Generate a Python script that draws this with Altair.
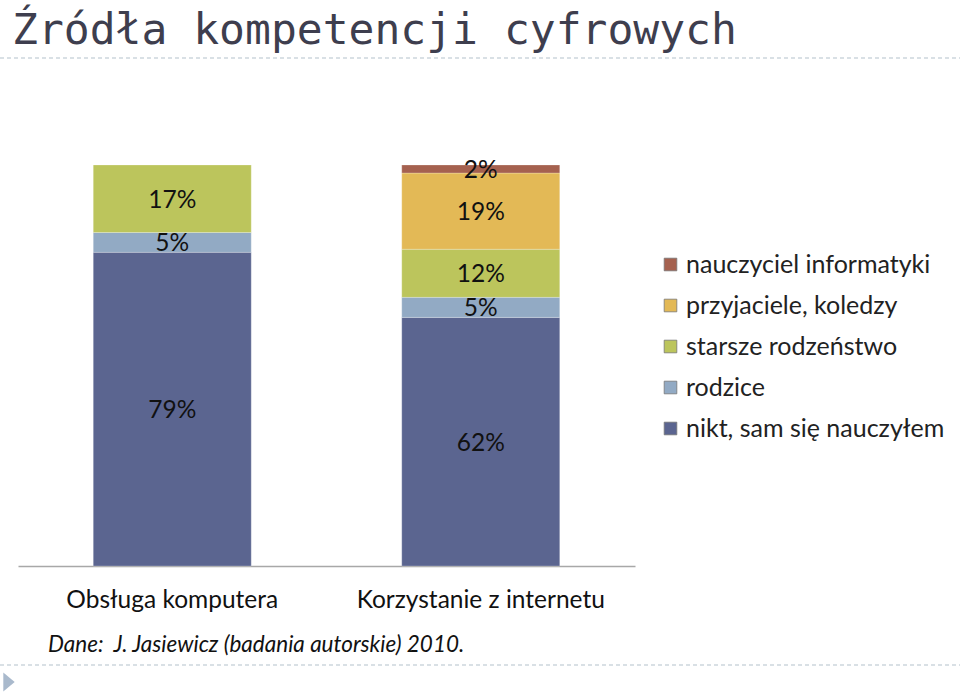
import altair as alt
import pandas as pd

categories = ["Obsługa komputera", "Korzystanie z internetu"]
series = ["nikt, sam się nauczyłem", "rodzice", "starsze rodzeństwo",
          "przyjaciele, koledzy", "nauczyciel informatyki"]
colors = ["#5b6590", "#92aac4", "#bcc55c", "#e3b956", "#a5614f"]
values_komputer = [79, 5, 17, 0, 0]
values_internet = [62, 5, 12, 19, 2]

rows = []
for cat, vals in zip(categories, [values_komputer, values_internet]):
    for i, (s, v) in enumerate(zip(series, vals)):
        if v > 0:
            rows.append({"kat": cat, "seria": s, "v": v, "ord": i})
df = pd.DataFrame(rows)

FONT = "Lato"
OX, OY = 18, 165  # plot origin in page pixels

legend_order = list(reversed(series))
legend_colors = list(reversed(colors))

color = alt.Color("seria:N",
                  scale=alt.Scale(domain=legend_order, range=legend_colors),
                  legend=alt.Legend(title=None, orient="none",
                                    legendX=658 - OX, legendY=252 - OY,
                                    symbolType="square", symbolSize=160,
                                    symbolStrokeWidth=0.8, symbolStrokeColor="#777777",
                                    labelFont=FONT, labelFontSize=25, labelColor="#222222",
                                    labelOffset=3, rowPadding=15, labelLimit=400))

x = alt.X("kat:N", sort=categories, title=None,
          scale=alt.Scale(paddingInner=0, paddingOuter=0),
          axis=alt.Axis(labelAngle=0, labelFont=FONT, labelFontSize=24.5,
                        labelColor="#111111", labelPadding=22, ticks=False,
                        labelLimit=400,
                        domainColor="#a8a8a8", domainWidth=1.5))

bars = alt.Chart(df).mark_bar(size=158, stroke="#ffffff", strokeWidth=0.4, strokeOpacity=0.6).encode(
    x=x,
    y=alt.Y("v:Q", stack="normalize", scale=alt.Scale(domain=[0, 1], nice=False), axis=None),
    color=color,
    order=alt.Order("ord:Q", sort="ascending"),
)

labels = alt.Chart(df).transform_joinaggregate(
    total="sum(v)", groupby=["kat"]
).transform_window(
    cum="sum(v)", sort=[alt.SortField("ord")], groupby=["kat"], frame=[None, 0]
).transform_calculate(
    mid="(datum.cum - datum.v/2)/datum.total",
    lab="datum.v + '%'"
).mark_text(font=FONT, fontSize=24.5, color="#111111", baseline="middle", dy=2).encode(
    x=alt.X("kat:N", sort=categories),
    y=alt.Y("mid:Q"),
    text="lab:N",
)

one = pd.DataFrame({"a": [0]})

title = alt.Chart(one).mark_text(
    text="Źródła kompetencji cyfrowych", font="DejaVu Sans Mono", fontSize=43,
    color="#3e3e4e", align="left", baseline="alphabetic"
).encode(x=alt.value(12 - OX), y=alt.value(44 - OY))

source = alt.Chart(one).mark_text(
    text="Dane:\u00a0 J. Jasiewicz (badania autorskie) 2010.", font=FONT, fontSize=22.5,
    fontStyle="italic", color="#111111", align="left", baseline="alphabetic"
).encode(x=alt.value(48 - OX), y=alt.value(652 - OY))

line_top = alt.Chart(one).mark_rule(color="#b4c2cc", strokeDash=[4, 3], strokeWidth=1.2).encode(
    x=alt.value(-OX), x2=alt.value(960 - OX), y=alt.value(58 - OY))
line_bot = alt.Chart(one).mark_rule(color="#b4c2cc", strokeDash=[4, 3], strokeWidth=1.2).encode(
    x=alt.value(-OX), x2=alt.value(960 - OX), y=alt.value(665 - OY))

tri = alt.Chart(one).mark_point(shape="M-0.6,-1L0.6,0L-0.6,1Z", filled=True, opacity=1,
                                color="#a9b9cc", size=361).encode(
    x=alt.value(9 - OX), y=alt.value(682 - OY))

chart = alt.layer(bars, labels, title, source, line_top, line_bot, tri).properties(
    width=635 - OX, height=566 - OY,
    autosize=alt.AutoSizeParams(type="none"),
    padding={"left": OX, "top": OY, "right": 960 - 635, "bottom": 697 - 566},
    background="white",
).configure_view(stroke=None)

chart.save("out.html", embed_options={"renderer": "svg", "actions": False})
